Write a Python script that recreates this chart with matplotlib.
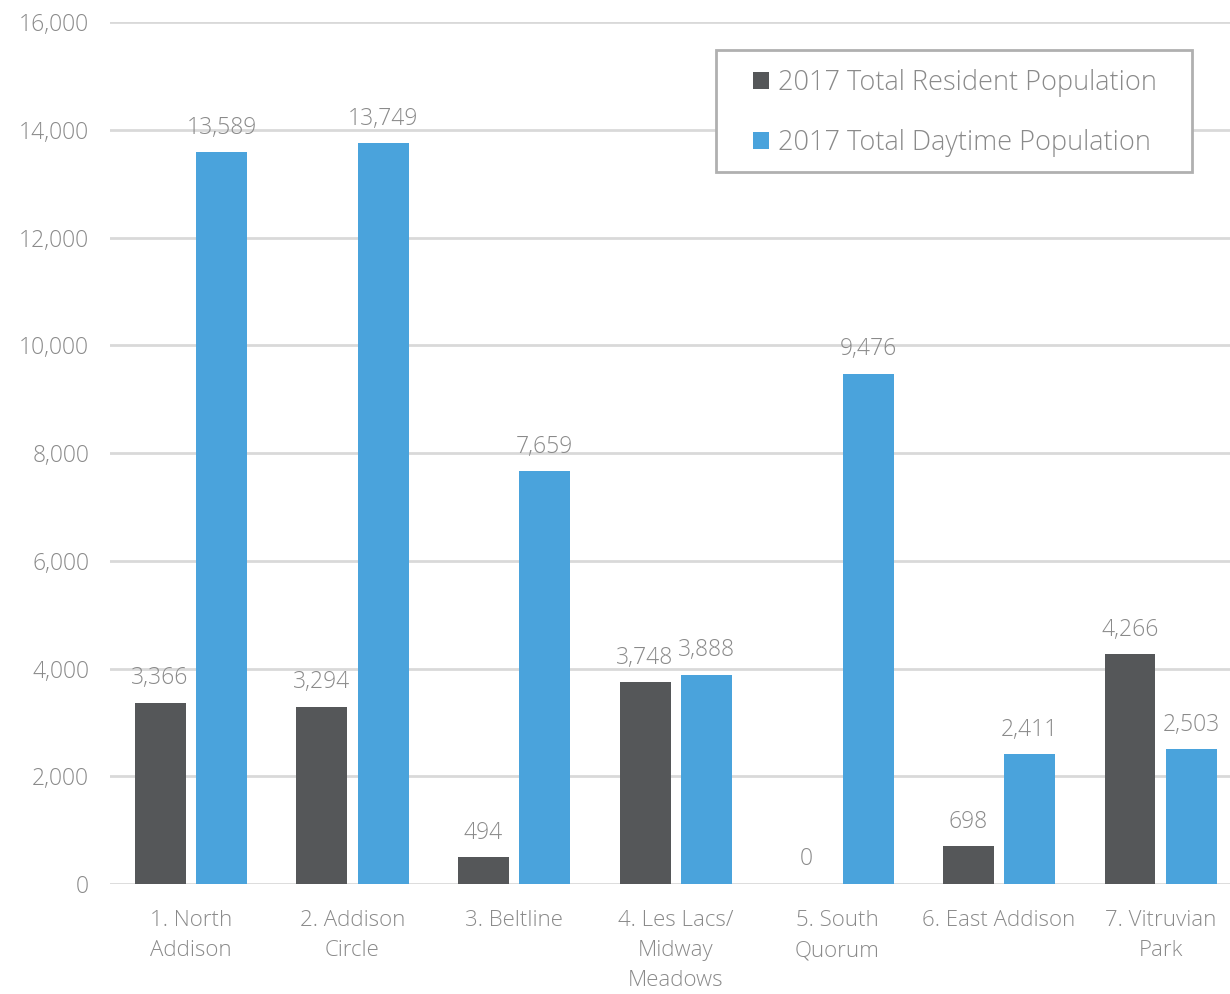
import numpy as np
import matplotlib
matplotlib.use("Agg")
from matplotlib import pyplot as plt
from matplotlib.ticker import FuncFormatter
from matplotlib.patches import Rectangle

#Chart data
categories = ["1. North\nAddison", "2. Addison\nCircle", "3. Beltline", "4. Les Lacs/\nMidway\nMeadows",
              "5. South\nQuorum", "6. East Addison", "7. Vitruvian\nPark"]
resident = [3366, 3294, 494, 3748, 0, 698, 4266]
daytime = [13589, 13749, 7659, 3888, 9476, 2411, 2503]
seriesNames = ["2017 Total Resident Population", "2017 Total Daytime Population"]

DARK = "#555759"
BLUE = "#4aa3dc"
TEXT = "#8a8a8a"
GRID = "#d9d9d9"

plt.rcParams['font.family'] = ["Open Sans", "DejaVu Sans"]
plt.rcParams['font.weight'] = "light"

fig = plt.figure(figsize=(12.3, 9.94), dpi=100)
ax = fig.add_axes([0.0894, 0.1107, 0.920, 0.867]) #right edge runs off the picture like the reference

x = np.arange(len(categories))
w = 0.315
off = 0.19
b1 = ax.bar(x - off, resident, w, color=DARK, label=seriesNames[0], zorder=3)
b2 = ax.bar(x + off, daytime, w, color=BLUE, label=seriesNames[1], zorder=3)

#Value labels above each bar
for bars in (b1, b2):
    for r in bars:
        h = r.get_height()
        ax.annotate(f"{h:,.0f}", (r.get_x() + r.get_width() / 2, h), xytext=(0, 9),
                    textcoords="offset points", ha="center", va="bottom", fontsize=16.5, color=TEXT)

ax.set_xlim(-0.5, len(categories) - 0.5)
ax.set_ylim(0, 16000)
ax.set_yticks(np.arange(0, 16001, 2000))
ax.yaxis.set_major_formatter(FuncFormatter(lambda v, p: f"{v:,.0f}"))
ax.set_xticks(x)
ax.set_xticklabels(categories, fontsize=16, color=TEXT, linespacing=1.55)
ax.tick_params(axis="y", labelsize=16.5, labelcolor=TEXT, length=0, pad=15)
ax.tick_params(axis="x", length=0, pad=19)
ax.grid(axis="y", color=GRID, linewidth=2, zorder=0)
for s in ax.spines.values():
    s.set_visible(False)

#Legend frame drawn by hand so the side padding can be wider than the top padding
fig.patches.append(Rectangle((0.582, 0.827), 0.387, 0.123, transform=fig.transFigure,
                             facecolor="white", edgecolor="#b0b0b0", linewidth=2, zorder=5))
leg = fig.legend(handles=[b1, b2], loc="center left", bbox_to_anchor=(0.612, 0.886), fontsize=19.5,
                 frameon=False, handlelength=0.6, handleheight=0.6, handletextpad=0.35, borderpad=0,
                 labelspacing=1.18, borderaxespad=0)
leg.set_zorder(6)
for t in leg.get_texts():
    t.set_color(TEXT)

plt.savefig("out.png", dpi=100)
plt.close(fig)
